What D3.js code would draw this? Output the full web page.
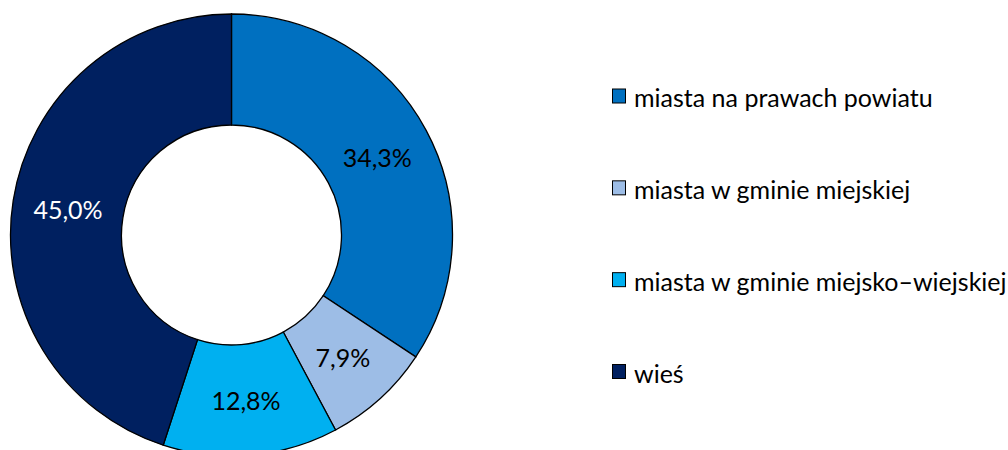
<!DOCTYPE html>
<html>
<head>
<meta charset="utf-8">
<script src="https://cdn.jsdelivr.net/npm/d3@7"></script>
<style>
  body { margin: 0; background: #fff; }
  text { font-family: Lato, "Open Sans", sans-serif; }
</style>
</head>
<body>
<script>
// data
var categories = ["miasta na prawach powiatu", "miasta w gminie miejskiej", "miasta w gminie miejsko\u2013wiejskiej", "wie\u015b"];
var values = [34.3, 7.9, 12.8, 45.0];
var labels = ["34,3%", "7,9%", "12,8%", "45,0%"];
var colors = ["#0070C0", "#9DBDE6", "#00B0F0", "#002060"];
var labelColors = ["#000", "#000", "#000", "#fff"];

var width = 1008, height = 450;
var cx = 231.5, cy = 235, outer = 221, inner = 110;

var svg = d3.select("body").append("svg")
    .attr("width", width)
    .attr("height", height);

var pie = d3.pie().sort(null).value(function(d) { return d; });
var arc = d3.arc().innerRadius(inner).outerRadius(outer);

var g = svg.append("g")
    .attr("transform", "translate(" + cx + "," + cy + ")");

var arcs = pie(values);

g.selectAll("path")
    .data(arcs)
  .enter().append("path")
    .attr("d", arc)
    .attr("fill", function(d, i) { return colors[i]; })
    .attr("stroke", "#000")
    .attr("stroke-width", 1.3);

g.selectAll("text")
    .data(arcs)
  .enter().append("text")
    .attr("transform", function(d) { return "translate(" + arc.centroid(d) + ")"; })
    .attr("text-anchor", "middle")
    .attr("dominant-baseline", "central")
    .style("font-size", "25px")
    .attr("fill", function(d, i) { return labelColors[i]; })
    .text(function(d, i) { return labels[i]; });

// legend
var legendY = d3.scalePoint().domain(categories).range([96, 371.5]);

var leg = svg.append("g").selectAll("g")
    .data(categories)
  .enter().append("g")
    .attr("transform", function(d) { return "translate(612," + legendY(d) + ")"; });

leg.append("rect")
    .attr("x", 0.5)
    .attr("y", -7)
    .attr("width", 13)
    .attr("height", 14)
    .attr("fill", function(d, i) { return colors[i]; })
    .attr("stroke", "#000")
    .attr("stroke-width", 1);

leg.append("text")
    .attr("x", 22)
    .attr("y", 1)
    .attr("dominant-baseline", "central")
    .style("font-size", "25px")
    .attr("fill", "#000")
    .text(function(d) { return d; });
</script>
</body>
</html>
